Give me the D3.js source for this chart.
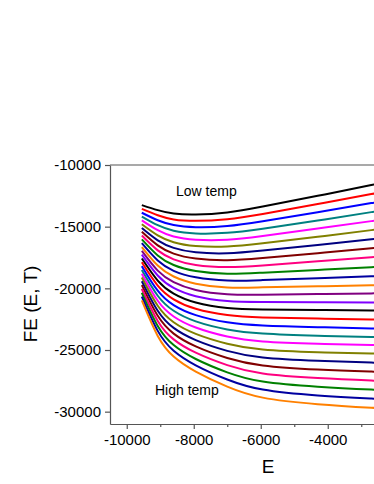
<!DOCTYPE html>
<html>
<head>
<meta charset="utf-8">
<script src="https://cdn.jsdelivr.net/npm/d3@7"></script>
<style>
  body { margin: 0; background: #fff; }
  text { font-family: "Liberation Sans", Arial, sans-serif; fill: #000; }
</style>
</head>
<body>
<svg id="chart" width="374" height="484"></svg>
<script>
// E values where each curve was read
const energies = [-9550, -9075, -8600, -7940, -7000, -5940, -4300, -2700, -2500];

// FE read at each E, one entry per curve (low temp first)
const feAt9550 = [-13250,-13560,-13870,-14180,-14490,-14800,-15110,-15420,-15720,-16030,-16340,-16650,-16960,-17270,-17580,-17890,-18200,-18510,-18810,-19120,-19430,-19740,-20050,-20360,-20670,-20980];
const feAt9075 = [-13660,-14070,-14480,-14880,-15290,-15700,-16110,-16520,-16920,-17330,-17740,-18150,-18560,-18960,-19370,-19780,-20190,-20600,-21010,-21410,-21820,-22230,-22640,-23050,-23450,-23860];
const feAt8600 = [-13940,-14410,-14870,-15330,-15800,-16260,-16720,-17190,-17650,-18110,-18580,-19040,-19500,-19970,-20430,-20890,-21360,-21820,-22280,-22750,-23210,-23670,-24140,-24600,-25060,-25530];
const feAt7940 = [-14020,-14530,-15040,-15550,-16060,-16570,-17080,-17590,-18100,-18600,-19110,-19620,-20130,-20640,-21150,-21660,-22170,-22680,-23180,-23690,-24200,-24710,-25220,-25730,-26240,-26750];
const feAt7000 = [-13850,-14400,-14950,-15500,-16060,-16610,-17160,-17720,-18270,-18820,-19370,-19930,-20480,-21030,-21590,-22170,-22750,-23330,-23910,-24490,-25070,-25650,-26230,-26810,-27390,-27970];
const feAt5940 = [-13370,-13970,-14560,-15160,-15750,-16350,-16940,-17540,-18140,-18730,-19330,-19920,-20520,-21110,-21710,-22360,-23010,-23660,-24310,-24960,-25610,-26260,-26910,-27560,-28210,-28860];
const feAt4300 = [-12500,-13160,-13830,-14500,-15150,-15820,-16480,-17150,-17810,-18510,-19180,-19840,-20460,-21130,-21750,-22450,-23150,-23840,-24500,-25180,-25880,-26590,-27280,-27980,-28690,-29390];
const feAt2700 = [-11630,-12360,-13090,-13820,-14550,-15280,-16020,-16750,-17480,-18290,-19020,-19760,-20410,-21140,-21790,-22520,-23250,-23940,-24590,-25280,-26020,-26750,-27480,-28210,-28940,-29680];
const feAt2500 = [-11520,-12260,-13000,-13740,-14470,-15210,-15960,-16700,-17430,-18260,-18990,-19750,-20400,-21140,-21800,-22530,-23260,-23950,-24600,-25290,-26030,-26770,-27500,-28230,-28970,-29710];

const lineColors = ["#000000","#ff0000","#0000ff","#008080","#ff00ff","#808000","#000080",
                    "#800000","#ff0080","#008000","#0000a0","#ff8000","#800080","#8000ff"];

const xTicks = [-10000, -8000, -6000, -4000];
const xMinor = [-9000, -7000, -5000, -3000];
const yTicks = [-30000, -25000, -20000, -15000, -10000];

let svg = d3.select("#chart");

let x = d3.scaleLinear().domain([-10500, -2000]).range([110, 394.75]);
let y = d3.scaleLinear().domain([-31000, -10000]).range([424, 165]);

// build one series per curve from the columns
let columns = [feAt9550, feAt9075, feAt8600, feAt7940, feAt7000, feAt5940, feAt4300, feAt2700, feAt2500];
let series = feAt9550.map((d, i) => columns.map((col, j) => ({ e: energies[j], fe: col[i] })));

let line = d3.line()
    .x(d => x(d.e))
    .y(d => y(d.fe))
    .curve(d3.curveNatural);

svg.append("g")
    .selectAll("path")
    .data(series)
    .join("path")
    .attr("d", line)
    .attr("fill", "none")
    .attr("stroke", (d, i) => lineColors[i % lineColors.length])
    .attr("stroke-width", 2);

// frame: top line
svg.append("line")
    .attr("x1", 110).attr("x2", 394.75)
    .attr("y1", 165).attr("y2", 165)
    .attr("stroke", "#555").attr("stroke-width", 1.2);

let fmt = d => String(d);

let xAxis = svg.append("g")
    .attr("transform", "translate(0,424)")
    .call(d3.axisBottom(x).tickValues(xTicks).tickFormat(fmt).tickSize(5).tickSizeOuter(0));

svg.append("g")
    .attr("transform", "translate(0,424)")
    .call(d3.axisBottom(x).tickValues(xMinor).tickFormat("").tickSize(3).tickSizeOuter(0))
    .select(".domain").remove();

let yAxis = svg.append("g")
    .attr("transform", "translate(110,0)")
    .call(d3.axisLeft(y).tickValues(yTicks).tickFormat(fmt).tickSize(5).tickSizeOuter(0));

svg.selectAll(".tick line, .domain").attr("stroke", "#555").attr("stroke-width", 1.2);
svg.selectAll(".tick text")
    .attr("font-size", 15)
    .attr("font-family", "Liberation Sans, Arial, sans-serif")
    .attr("fill", "#000");
xAxis.selectAll(".tick text").attr("dy", "0.95em").attr("y", 7);
yAxis.selectAll(".tick text").attr("x", -9);

svg.append("text")
    .attr("x", 268).attr("y", 473)
    .attr("text-anchor", "middle")
    .attr("font-size", 19)
    .text("E");

svg.append("text")
    .attr("transform", "translate(37,304) rotate(-90)")
    .attr("text-anchor", "middle")
    .attr("font-size", 19)
    .text("FE (E, T)");

svg.append("text")
    .attr("x", 176).attr("y", 196)
    .attr("font-size", 14)
    .text("Low temp");

svg.append("text")
    .attr("x", 155).attr("y", 395)
    .attr("font-size", 14)
    .text("High temp");
</script>
</body>
</html>
